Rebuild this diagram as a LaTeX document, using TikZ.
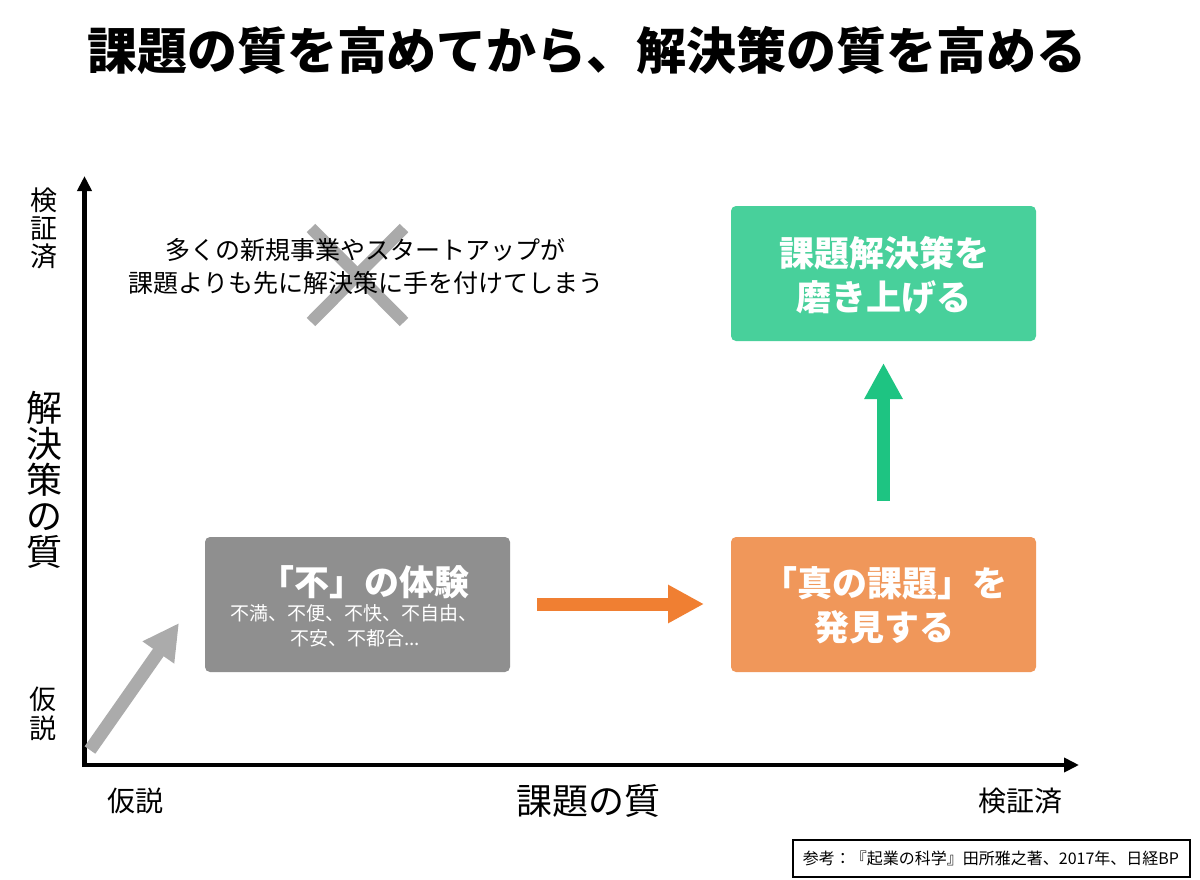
\documentclass[tikz,border=0pt]{standalone}
\usepackage{fontspec}
\setmainfont{Noto Sans CJK JP}
\usetikzlibrary{arrows.meta}
\definecolor{boxgray}{HTML}{8F8F8F}
\definecolor{boxorange}{HTML}{F0975A}
\definecolor{boxgreen}{HTML}{48D09B}
\definecolor{arrorange}{HTML}{F07F32}
\definecolor{arrgreen}{HTML}{1EC482}
\definecolor{arrgray}{HTML}{ABABAB}
\definecolor{crossgray}{HTML}{AAAAAA}
\newcommand{\fs}[1]{\fontsize{#1}{#1}\selectfont}
\tikzset{
  card/.style={rounded corners=5pt, minimum width=305pt, minimum height=135pt, inner sep=0pt},
  cardtext/.style={text=white, align=center, inner sep=0pt, font=\fs{35}\bfseries},
  subtext/.style={text=white, align=center, inner sep=0pt, font=\fs{19}},
  axis/.style={line width=4.5pt, -{Triangle[width=14pt,length=15pt]}},
  blockarrow/.style={line width=13pt, -{Triangle[width=36pt,length=36pt]}},
  vlabel/.style={align=center, inner sep=0pt},
  crossline/.style={line width=12pt, crossgray},
}
\begin{document}
\begin{tikzpicture}[x=1pt,y=-1pt]
\useasboundingbox[fill=white] (0,0) rectangle (1200,879);

% title
\node[inner sep=0pt, font=\fs{50}\bfseries] (title) at (587,50) {課題の質を高めてから、解決策の質を高める};

% axes
\coordinate (o) at (84.5,765);
\coordinate (ytop) at (84.5,176);
\coordinate (xend) at (1079,765);
\draw[axis] (84.5,767) -- (ytop);
\draw[axis] (82.5,765) -- (xend);

% y labels
\node[vlabel, font=\fs{27}] (yv) at (44,228) {検\\[1pt]証\\[1pt]済};
\node[vlabel, font=\fs{36}] (yq) at (44,480) {解\\決\\策\\の\\質};
\node[vlabel, font=\fs{27}] (yh) at (43,714) {仮\\[2pt]説};

% x labels
\node[inner sep=0pt, font=\fs{28}] (xh) at (135,801) {仮説};
\node[inner sep=0pt, font=\fs{36}] (xq) at (588,801) {課題の質};
\node[inner sep=0pt, font=\fs{28}] (xv) at (1020,801) {検証済};

% cross
\coordinate (c1) at (311,228);
\coordinate (c2) at (404,322);
\coordinate (c3) at (404,228);
\coordinate (c4) at (311,322);
\draw[crossline] (c1) -- (c2);
\draw[crossline] (c3) -- (c4);
\node[inner sep=0pt, font=\fs{25}] (m1) at (365,250) {多くの新規事業やスタートアップが};
\node[inner sep=0pt, font=\fs{25}] (m2) at (366,283) {課題よりも先に解決策に手を付けてしまう};

% cards
\node[card, fill=boxgray] (g) at (357.5,604.5) {};
\node[cardtext] (gt) at (364,582) {「不」の体験};
\node[subtext] (gs1) at (354,613) {不満、不便、不快、不自由、};
\node[subtext] (gs2) at (355,638) {不安、不都合...};

\node[card, fill=boxorange] (o1) at (883.5,604.5) {};
\node[cardtext] (ot1) at (885,583) {「真の課題」を};
\node[cardtext] (ot2) at (884,627) {発見する};

\node[card, fill=boxgreen] (gr) at (883.5,273.5) {};
\node[cardtext] (grt1) at (884,253) {課題解決策を};
\node[cardtext] (grt2) at (884,297) {磨き上げる};

% block arrows
\coordinate (a1s) at (90,750);
\coordinate (a1e) at (179,623);
\draw[blockarrow, arrgray] (a1s) -- (a1e);
\coordinate (a2s) at (537,604);
\coordinate (a2e) at (704,604);
\draw[blockarrow, arrorange] (a2s) -- (a2e);
\coordinate (a3s) at (883.5,501);
\coordinate (a3e) at (883.5,363);
\draw[blockarrow, arrgreen] (a3s) -- (a3e);

% reference
\node[draw=black, line width=2pt, minimum width=397pt, minimum height=37pt, inner sep=0pt, font=\fs{16}] (ref) at (991,858.5) {参考：『起業の科学』田所雅之著、2017年、日経BP};
\end{tikzpicture}
\end{document}
